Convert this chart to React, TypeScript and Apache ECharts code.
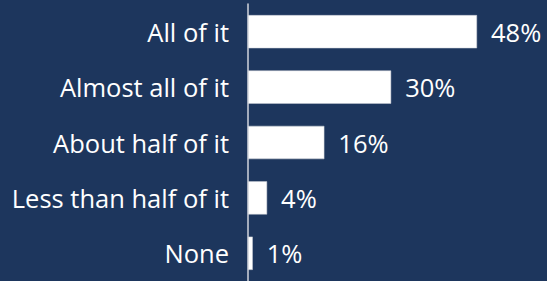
import React, { useEffect, useRef } from "react";
import * as echarts from "echarts";

const categories = ["All of it", "Almost all of it", "About half of it", "Less than half of it", "None"];
const values = [48, 30, 16, 4, 1];

export default function App() {
  const ref = useRef<HTMLDivElement>(null);
  useEffect(() => {
    const chart = echarts.init(ref.current!, null, { renderer: "svg" });
    chart.setOption({
      animation: false,
      backgroundColor: "#1d365d",
      textStyle: { fontFamily: "Open Sans" },
      grid: { left: 248, right: 70, top: 4, bottom: -1, containLabel: false },
      xAxis: {
        type: "value",
        min: 0,
        max: 48,
        show: false,
      },
      yAxis: {
        type: "category",
        data: categories,
        inverse: true,
        axisLine: { show: true, lineStyle: { color: "#d0d4dc", width: 1.5 } },
        axisTick: { show: false },
        axisLabel: {
          color: "#ffffff",
          fontSize: 25.5,
          fontFamily: "Open Sans",
          margin: 19,
        },
      },
      series: [
        {
          type: "bar",
          data: values,
          barWidth: "60%",
          itemStyle: { color: "#ffffff", borderColor: "#c8ccd4", borderWidth: 0.5 },
          label: {
            show: true,
            position: "right",
            distance: 14,
            color: "#ffffff",
            fontSize: 25.5,
            fontFamily: "Open Sans",
            formatter: "{c}%",
          },
        },
      ],
    });
    return () => chart.dispose();
  }, []);
  return <div ref={ref} style={{ width: 547, height: 281, position: "fixed", left: 0, top: 0 }} />;
}
